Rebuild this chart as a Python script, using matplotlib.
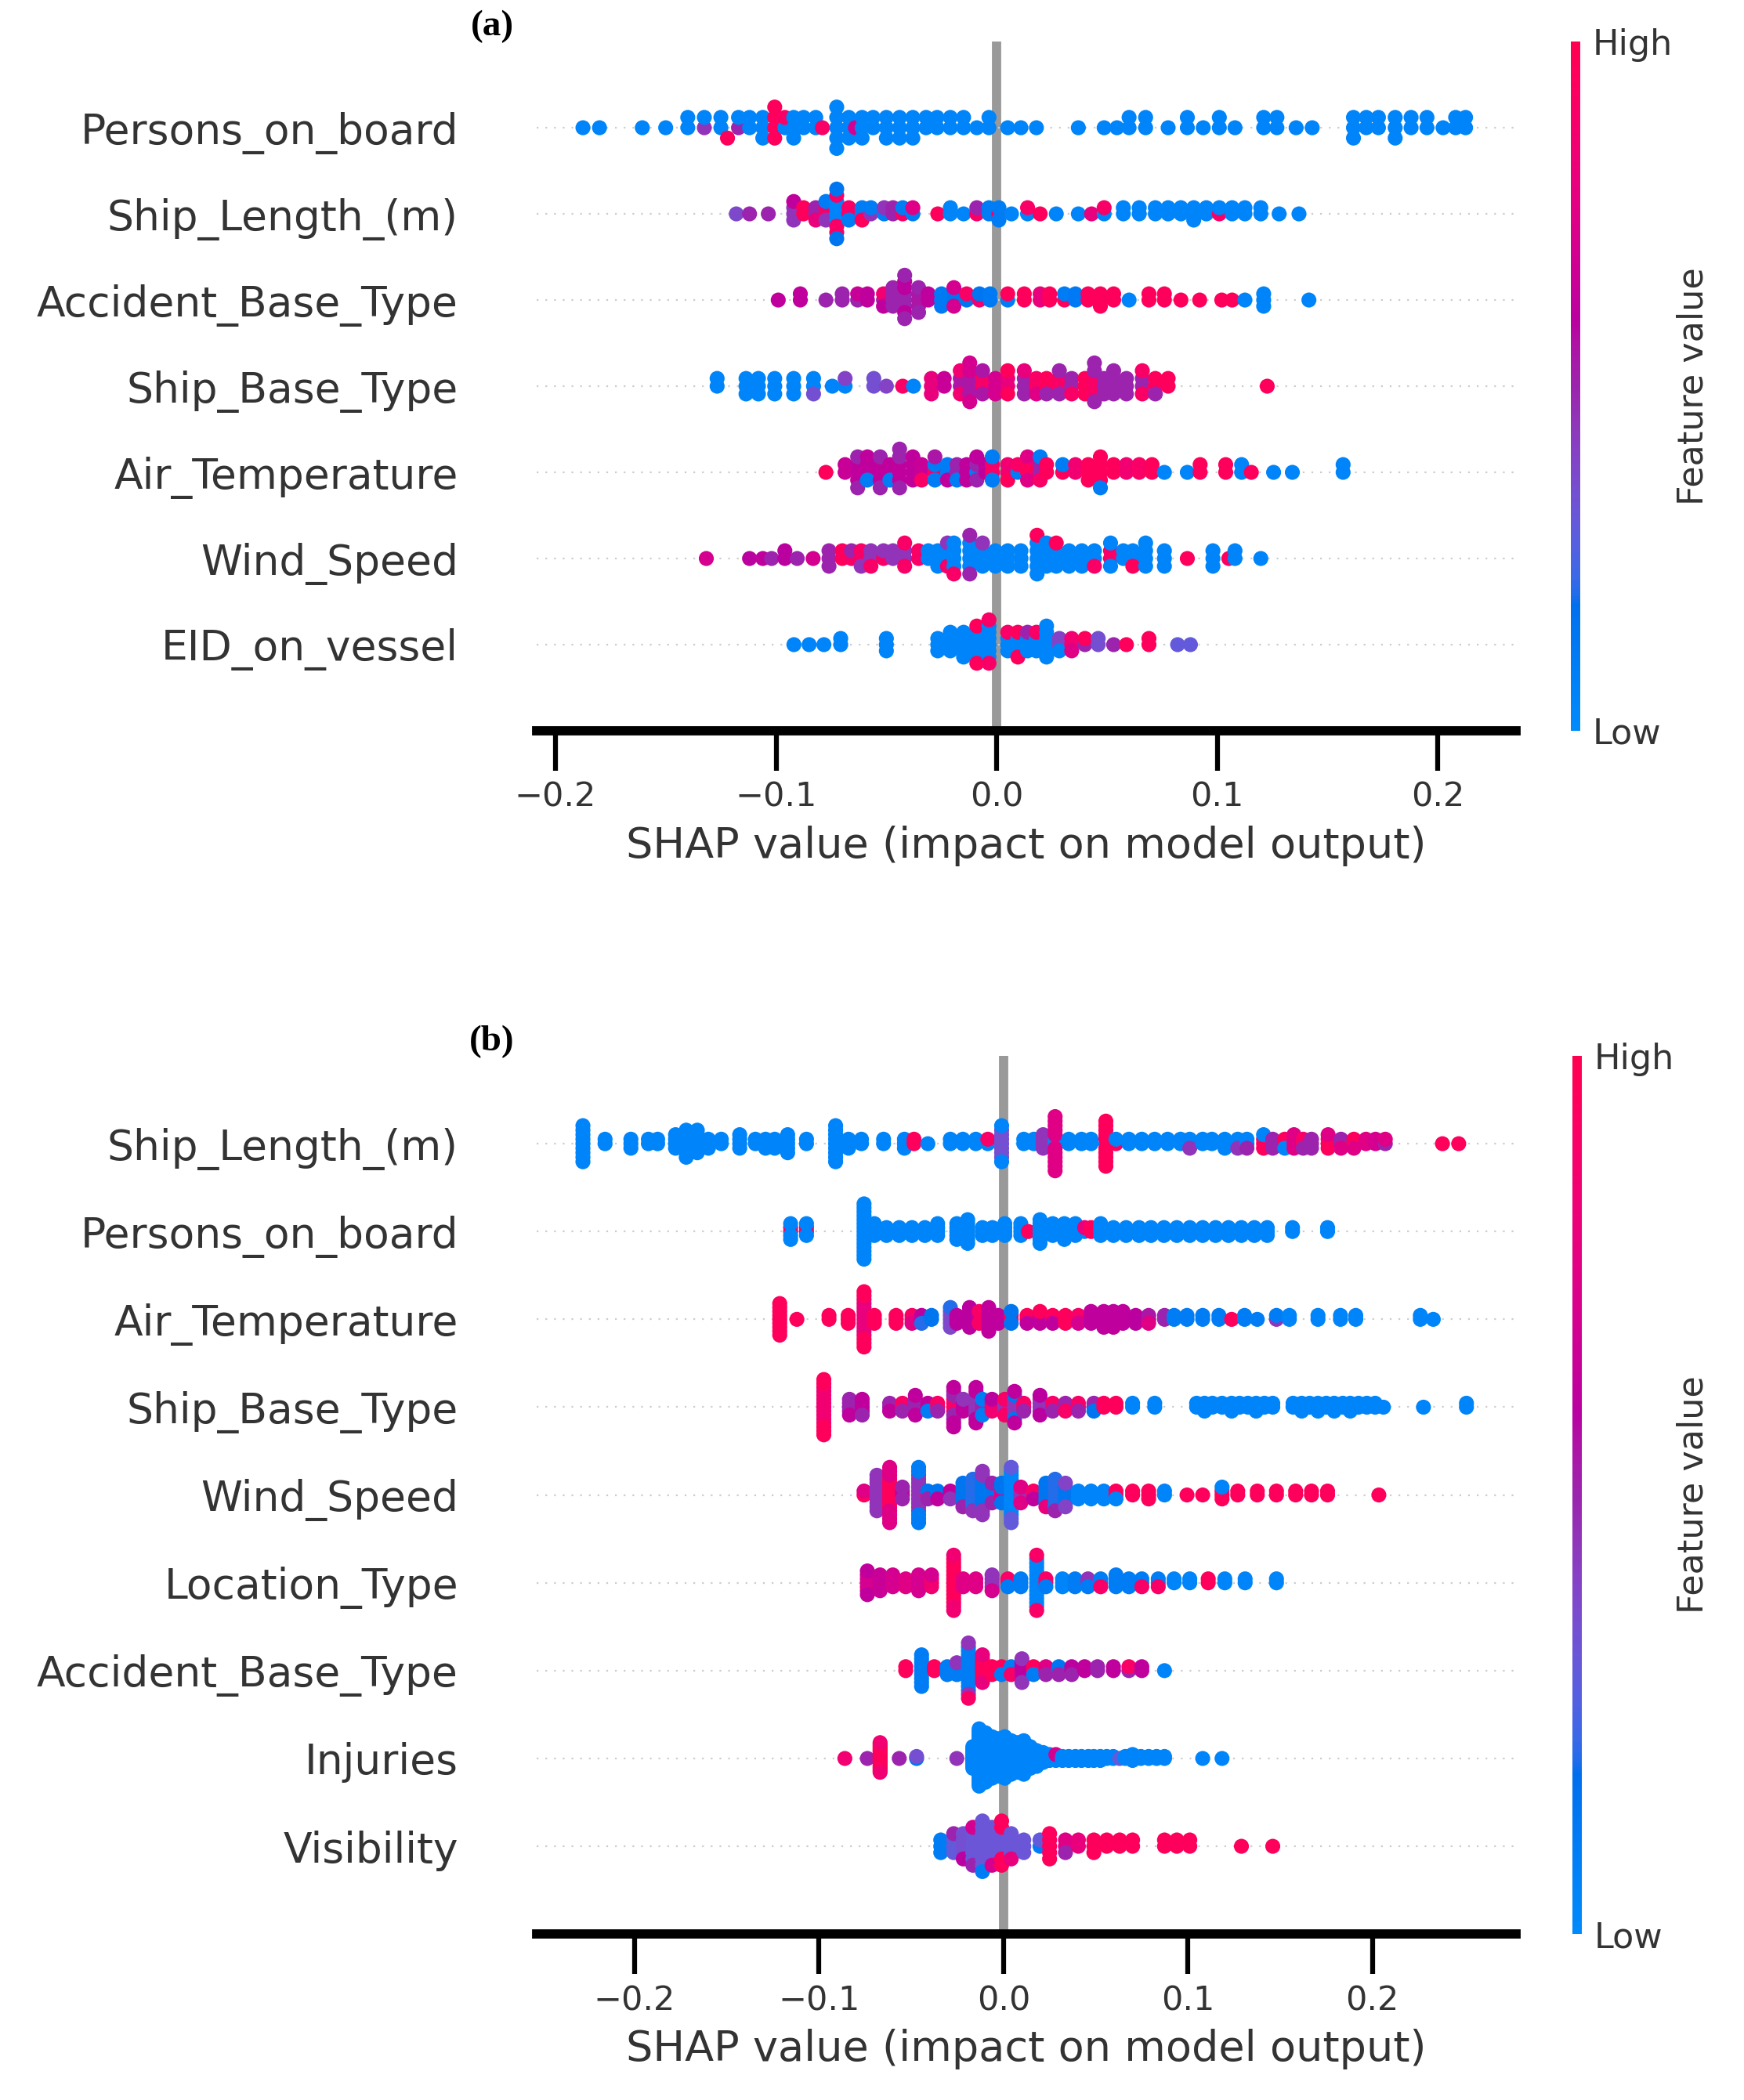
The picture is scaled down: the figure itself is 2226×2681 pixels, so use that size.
import numpy as np
import matplotlib
matplotlib.use("Agg")
import matplotlib.pyplot as plt
from matplotlib.colors import LinearSegmentedColormap, Normalize
from matplotlib.cm import ScalarMappable

# ---------------------------------------------------------------- data
# each group: (SHAP value, number of samples, normalised feature value 0=low..1=high)
features_a = ["Persons_on_board", "Ship_Length_(m)", "Accident_Base_Type", "Ship_Base_Type",
              "Air_Temperature", "Wind_Speed", "EID_on_vessel"]
features_b = ["Ship_Length_(m)", "Persons_on_board", "Air_Temperature", "Ship_Base_Type",
              "Wind_Speed", "Location_Type", "Accident_Base_Type", "Injuries", "Visibility"]
xticks_a = [-0.2, -0.1, 0.0, 0.1, 0.2]
xticks_b = [-0.2, -0.1, 0.0, 0.1, 0.2]
xlim_a = (-0.2085, 0.2353)
xlim_b = (-0.2531, 0.2778)
xlabel = "SHAP value (impact on model output)"
cbar_labels = ["Low", "High"]
cbar_title = "Feature value"
panel_labels = ["(a)", "(b)"]

a_persons_on_board = [
    (-0.1875, 1, 0.05), (-0.180, 1, 0.05), (-0.1606, 1, 0.05), (-0.150, 1, 0.05),
    (-0.140, 2, 0.05), (-0.1325, 1, 0.45), (-0.1325, 1, 0.05),
    (-0.125, 2, 0.05), (-0.122, 1, 0.95), (-0.117, 1, 0.5), (-0.117, 1, 0.05),
    (-0.112, 2, 0.05), (-0.106, 3, 0.05),
    (-0.1006, 4, 0.95), (-0.096, 1, 0.05), (-0.096, 1, 0.9),
    (-0.092, 3, 0.05), (-0.0875, 2, 0.05), (-0.082, 2, 0.05), (-0.079, 1, 0.9),
    (-0.0725, 5, 0.05), (-0.067, 3, 0.05), (-0.064, 1, 0.7), (-0.061, 3, 0.05), (-0.056, 2, 0.05),
    (-0.050, 3, 0.05), (-0.044, 3, 0.05), (-0.038, 3, 0.05), (-0.032, 2, 0.05), (-0.027, 2, 0.05),
    (-0.021, 2, 0.05), (-0.015, 2, 0.05), (-0.009, 1, 0.05), (-0.0035, 2, 0.05), (0.005, 1, 0.05),
    (0.011, 1, 0.05), (0.018, 1, 0.05),
    (0.037, 1, 0.05), (0.0487, 1, 0.05), (0.0545, 1, 0.05), (0.060, 2, 0.05), (0.0675, 2, 0.05),
    (0.0777, 1, 0.05), (0.0864, 2, 0.05), (0.0936, 1, 0.05), (0.1009, 2, 0.05), (0.108, 1, 0.05),
    (0.121, 2, 0.05), (0.127, 2, 0.05), (0.1357, 1, 0.05), (0.143, 1, 0.05),
    (0.1617, 3, 0.05), (0.1675, 2, 0.05), (0.173, 2, 0.05), (0.1806, 3, 0.05), (0.1878, 2, 0.05),
    (0.195, 2, 0.05), (0.2023, 1, 0.05), (0.208, 2, 0.05), (0.2125, 2, 0.05)]

a_ship_length = [
    (-0.118, 1, 0.38), (-0.112, 1, 0.5), (-0.1035, 1, 0.5),
    (-0.092, 3, 0.45), (-0.092, 1, 0.62), (-0.0875, 2, 0.95),
    (-0.082, 2, 0.5), (-0.082, 1, 0.8),
    (-0.0774, 2, 0.9), (-0.0774, 1, 0.45), (-0.0774, 1, 0.1),
    (-0.0725, 4, 0.05), (-0.0725, 3, 0.9), (-0.0725, 2, 0.15),
    (-0.067, 2, 0.9), (-0.067, 1, 0.1), (-0.061, 2, 0.1), (-0.061, 1, 0.95), (-0.057, 1, 0.45), (-0.057, 1, 0.1),
    (-0.051, 1, 0.1), (-0.051, 1, 0.45), (-0.047, 2, 0.5), (-0.0426, 1, 0.9), (-0.0426, 1, 0.1),
    (-0.038, 1, 0.1), (-0.038, 1, 0.75),
    (-0.0267, 1, 0.95), (-0.021, 2, 0.05), (-0.015, 1, 0.05), (-0.009, 1, 0.9), (-0.009, 1, 0.5),
    (-0.0035, 2, 0.1), (0.001, 1, 0.9), (0.001, 2, 0.1), (0.0067, 1, 0.05), (0.014, 1, 0.05),
    (0.014, 1, 0.9), (0.0197, 1, 0.95), (0.027, 1, 0.05),
    (0.037, 1, 0.05), (0.043, 1, 0.8), (0.0487, 1, 0.05), (0.0487, 1, 0.9), (0.0574, 2, 0.05),
    (0.0646, 2, 0.05), (0.0719, 2, 0.05), (0.0777, 2, 0.05), (0.0835, 2, 0.05), (0.0893, 3, 0.05),
    (0.095, 2, 0.05), (0.1009, 1, 0.9), (0.1009, 1, 0.05), (0.1067, 2, 0.05), (0.1125, 2, 0.05),
    (0.1197, 2, 0.05), (0.128, 1, 0.05), (0.137, 1, 0.05)]

a_accident_base_type = [
    (-0.099, 1, 0.62), (-0.089, 2, 0.62), (-0.0774, 1, 0.5), (-0.070, 2, 0.5), (-0.063, 1, 0.5),
    (-0.063, 1, 0.65), (-0.0586, 2, 0.62),
    (-0.0513, 1, 0.5), (-0.0513, 1, 0.85), (-0.0513, 1, 0.62), (-0.047, 4, 0.5),
    (-0.0417, 3, 0.5), (-0.0417, 3, 0.6), (-0.0417, 2, 0.5),
    (-0.0354, 3, 0.55), (-0.0354, 2, 0.5), (-0.031, 2, 0.62),
    (-0.025, 3, 0.12), (-0.0194, 2, 0.15), (-0.0194, 2, 0.7), (-0.0136, 1, 0.15), (-0.0136, 1, 0.9),
    (-0.0078, 1, 0.85), (-0.0078, 1, 0.15), (-0.003, 2, 0.12),
    (0.005, 1, 0.1), (0.005, 1, 0.95), (0.0125, 2, 0.95), (0.0197, 2, 0.8), (0.024, 2, 0.95),
    (0.0307, 1, 0.95), (0.0307, 1, 0.1), (0.0357, 2, 0.12), (0.0414, 2, 0.95), (0.047, 3, 0.95),
    (0.053, 2, 0.95), (0.060, 1, 0.05), (0.069, 2, 0.95), (0.076, 2, 0.95), (0.0835, 1, 0.95),
    (0.092, 1, 0.95), (0.102, 1, 0.95), (0.1067, 1, 0.95), (0.1125, 1, 0.05), (0.121, 3, 0.05),
    (0.1415, 1, 0.05)]

a_ship_base_type = [
    (-0.1267, 2, 0.05), (-0.1136, 3, 0.05), (-0.108, 3, 0.05), (-0.1006, 3, 0.05), (-0.092, 3, 0.05),
    (-0.083, 2, 0.05), (-0.083, 1, 0.35), (-0.0745, 1, 0.05), (-0.0687, 1, 0.05), (-0.0687, 1, 0.4),
    (-0.0557, 2, 0.35), (-0.050, 1, 0.4), (-0.0426, 1, 0.9), (-0.0377, 1, 0.05),
    (-0.0296, 3, 0.8), (-0.0238, 2, 0.65), (-0.0165, 2, 0.55), (-0.0165, 2, 0.85), (-0.0122, 3, 0.55),
    (-0.0122, 3, 0.7), (-0.0064, 2, 0.9), (-0.0064, 2, 0.55), (-0.0006, 3, 0.7), (0.005, 2, 0.8),
    (0.005, 2, 0.95), (0.0125, 3, 0.5), (0.0125, 1, 0.8), (0.018, 2, 0.9), (0.018, 1, 0.75),
    (0.0226, 2, 0.95), (0.0226, 1, 0.5), (0.0284, 2, 0.9), (0.0284, 2, 0.5), (0.034, 2, 0.5),
    (0.034, 1, 0.9), (0.040, 3, 0.95), (0.0443, 3, 0.9), (0.0443, 3, 0.5), (0.0487, 3, 0.5),
    (0.053, 4, 0.5), (0.0588, 3, 0.5), (0.066, 2, 0.5), (0.066, 2, 0.9), (0.0719, 2, 0.95),
    (0.0719, 1, 0.5), (0.0777, 2, 0.95), (0.1226, 1, 0.95)]

a_air_temperature = [
    (-0.0774, 1, 0.95), (-0.0687, 2, 0.65), (-0.063, 3, 0.62), (-0.063, 2, 0.5), (-0.0586, 2, 0.62),
    (-0.0586, 1, 0.1), (-0.0586, 1, 0.62), (-0.0528, 3, 0.62), (-0.0528, 2, 0.5), (-0.0484, 2, 0.62),
    (-0.0484, 1, 0.1), (-0.044, 3, 0.62), (-0.044, 3, 0.5), (-0.038, 4, 0.62), (-0.034, 2, 0.65),
    (-0.034, 1, 0.9), (-0.028, 1, 0.9), (-0.028, 2, 0.1), (-0.028, 1, 0.55), (-0.0223, 2, 0.1),
    (-0.0223, 1, 0.62), (-0.018, 2, 0.5), (-0.018, 1, 0.1), (-0.0136, 3, 0.62), (-0.009, 1, 0.1),
    (-0.009, 2, 0.5), (-0.009, 1, 0.62), (-0.005, 2, 0.62), (-0.002, 2, 0.9), (-0.002, 2, 0.1),
    (0.005, 2, 0.85), (0.005, 1, 0.95), (0.0096, 1, 0.1), (0.0096, 1, 0.9), (0.014, 2, 0.95),
    (0.014, 2, 0.75), (0.0197, 2, 0.5), (0.0197, 1, 0.9), (0.0197, 1, 0.1), (0.0226, 2, 0.95),
    (0.0299, 1, 0.95), (0.0299, 1, 0.1), (0.0357, 2, 0.85), (0.0415, 3, 0.95), (0.047, 4, 0.95),
    (0.047, 1, 0.1), (0.053, 2, 0.95), (0.0588, 2, 0.85), (0.0646, 2, 0.9), (0.0704, 2, 0.95),
    (0.076, 1, 0.05), (0.0864, 1, 0.05), (0.0922, 2, 0.95), (0.1038, 2, 0.95), (0.111, 2, 0.05),
    (0.1154, 1, 0.95), (0.1255, 1, 0.05), (0.134, 1, 0.05), (0.157, 2, 0.05)]

a_wind_speed = [
    (-0.1316, 1, 0.7), (-0.112, 1, 0.6), (-0.106, 1, 0.62), (-0.102, 1, 0.5), (-0.096, 2, 0.6),
    (-0.0904, 1, 0.5), (-0.0832, 1, 0.7), (-0.076, 3, 0.5), (-0.070, 2, 0.95), (-0.0658, 1, 0.9),
    (-0.0658, 1, 0.5), (-0.0614, 2, 0.9), (-0.0614, 1, 0.45), (-0.057, 2, 0.45), (-0.057, 1, 0.9),
    (-0.0513, 1, 0.9), (-0.0513, 1, 0.45), (-0.047, 2, 0.45), (-0.0417, 2, 0.45), (-0.0417, 2, 0.9),
    (-0.0354, 2, 0.9), (-0.031, 2, 0.05), (-0.0267, 3, 0.05), (-0.0223, 2, 0.05), (-0.0223, 1, 0.9),
    (-0.0223, 1, 0.45), (-0.0194, 4, 0.05), (-0.0194, 1, 0.9), (-0.0122, 4, 0.05), (-0.0122, 2, 0.5),
    (-0.0064, 3, 0.05), (-0.0064, 1, 0.45), (-0.0006, 3, 0.05), (0.005, 3, 0.05), (0.011, 3, 0.05),
    (0.0183, 5, 0.05), (0.0183, 1, 0.95), (0.0226, 4, 0.05), (0.027, 3, 0.05), (0.027, 1, 0.95),
    (0.0328, 3, 0.05), (0.0386, 3, 0.05), (0.0443, 2, 0.05), (0.0443, 1, 0.9), (0.0516, 2, 0.9),
    (0.0516, 2, 0.05), (0.0574, 2, 0.05), (0.0617, 2, 0.05), (0.0617, 1, 0.95), (0.0675, 4, 0.05),
    (0.076, 3, 0.05), (0.0864, 1, 0.95), (0.098, 3, 0.05), (0.1052, 1, 0.95), (0.108, 2, 0.05),
    (0.1197, 1, 0.05)]

a_eid_on_vessel = [
    (-0.0919, 1, 0.05), (-0.085, 1, 0.05), (-0.0783, 1, 0.05), (-0.0707, 2, 0.05), (-0.050, 3, 0.05),
    (-0.0267, 3, 0.05), (-0.021, 4, 0.05), (-0.015, 5, 0.05), (-0.009, 5, 0.05), (-0.009, 2, 0.95),
    (-0.0035, 6, 0.05), (-0.0035, 2, 0.9), (0.005, 3, 0.05), (0.005, 1, 0.9), (0.0096, 3, 0.05),
    (0.0096, 2, 0.95), (0.014, 3, 0.05), (0.014, 1, 0.5), (0.018, 3, 0.05), (0.018, 1, 0.9),
    (0.0226, 6, 0.05), (0.0284, 2, 0.4), (0.0284, 1, 0.05), (0.034, 2, 0.85), (0.034, 1, 0.75),
    (0.040, 1, 0.5), (0.040, 1, 0.95), (0.046, 2, 0.35), (0.053, 1, 0.5), (0.0588, 1, 0.95),
    (0.069, 2, 0.95), (0.082, 1, 0.3), (0.0878, 1, 0.3)]

b_ship_length = [
    (-0.228, 9, 0.05), (-0.216, 2, 0.05), (-0.202, 3, 0.05), (-0.1925, 2, 0.05), (-0.1875, 2, 0.05),
    (-0.1778, 4, 0.05), (-0.172, 7, 0.05), (-0.166, 6, 0.05), (-0.160, 3, 0.05), (-0.153, 2, 0.05),
    (-0.143, 4, 0.05), (-0.1345, 2, 0.05), (-0.129, 3, 0.05), (-0.124, 3, 0.05), (-0.117, 5, 0.05),
    (-0.1068, 2, 0.05), (-0.091, 9, 0.05), (-0.084, 3, 0.05), (-0.077, 2, 0.05), (-0.065, 2, 0.05),
    (-0.0537, 3, 0.05), (-0.0485, 2, 0.95), (-0.041, 1, 0.05), (-0.0288, 2, 0.05), (-0.022, 2, 0.05),
    (-0.015, 2, 0.05), (-0.0085, 1, 0.05), (-0.0085, 1, 0.9),
    (-0.001, 7, 0.35), (-0.001, 2, 0.05),
    (0.011, 2, 0.05), (0.0165, 2, 0.05), (0.0215, 4, 0.45), (0.028, 2, 0.05), (0.028, 11, 0.75),
    (0.0354, 2, 0.05), (0.0423, 2, 0.05), (0.0475, 2, 0.05), (0.0555, 1, 0.05), (0.0555, 10, 0.95),
    (0.061, 1, 0.95), (0.061, 1, 0.05), (0.068, 2, 0.05), (0.075, 2, 0.05), (0.082, 2, 0.05),
    (0.089, 2, 0.05), (0.096, 2, 0.05), (0.101, 2, 0.05), (0.101, 1, 0.45), (0.108, 2, 0.05),
    (0.113, 2, 0.05), (0.120, 3, 0.05), (0.127, 2, 0.05), (0.127, 1, 0.45), (0.132, 2, 0.05),
    (0.132, 1, 0.5), (0.141, 3, 0.95), (0.141, 1, 0.05), (0.146, 3, 0.5), (0.1525, 2, 0.95),
    (0.1525, 1, 0.05), (0.1575, 4, 0.75), (0.1625, 2, 0.9), (0.1625, 1, 0.5), (0.167, 3, 0.5),
    (0.176, 3, 0.95), (0.176, 1, 0.75), (0.183, 2, 0.5), (0.183, 1, 0.75), (0.190, 2, 0.95),
    (0.190, 1, 0.75), (0.1965, 2, 0.75), (0.2017, 2, 0.7), (0.207, 1, 0.5), (0.207, 1, 0.75),
    (0.238, 1, 0.95), (0.2468, 1, 0.95)]

b_persons_on_board = [
    (-0.1154, 2, 0.95), (-0.1154, 3, 0.05), (-0.1068, 2, 0.95), (-0.1068, 2, 0.05),
    (-0.0756, 15, 0.05), (-0.070, 4, 0.05), (-0.0634, 3, 0.05), (-0.0565, 3, 0.05), (-0.0496, 3, 0.05),
    (-0.0426, 3, 0.05), (-0.0357, 4, 0.05), (-0.0253, 5, 0.05), (-0.0194, 7, 0.05), (-0.0114, 3, 0.05),
    (-0.006, 3, 0.05), (0.0007, 4, 0.05), (0.0094, 4, 0.05), (0.0135, 1, 0.95), (0.0198, 7, 0.05),
    (0.0267, 4, 0.05), (0.033, 5, 0.05), (0.039, 4, 0.05), (0.044, 1, 0.05), (0.044, 1, 0.8),
    (0.0475, 2, 0.95), (0.0527, 4, 0.05), (0.0596, 3, 0.05), (0.0665, 3, 0.05), (0.0735, 3, 0.05),
    (0.080, 3, 0.05), (0.087, 3, 0.05), (0.094, 3, 0.05), (0.101, 3, 0.05), (0.108, 3, 0.05),
    (0.115, 3, 0.05), (0.122, 3, 0.05), (0.129, 3, 0.05), (0.136, 3, 0.05), (0.143, 3, 0.05),
    (0.1567, 2, 0.05), (0.1757, 2, 0.05)]

b_air_temperature = [
    (-0.1213, 9, 0.95), (-0.112, 1, 0.95), (-0.0946, 2, 0.95), (-0.0842, 3, 0.95),
    (-0.0756, 10, 0.8), (-0.0756, 5, 0.95), (-0.070, 3, 0.95), (-0.0582, 3, 0.95), (-0.0496, 2, 0.9),
    (-0.0496, 1, 0.75), (-0.0444, 2, 0.6), (-0.0444, 1, 0.2), (-0.039, 2, 0.15), (-0.0288, 5, 0.38),
    (-0.0288, 1, 0.2), (-0.0253, 3, 0.6), (-0.0184, 6, 0.6), (-0.0132, 2, 0.65), (-0.0132, 2, 0.9),
    (-0.008, 7, 0.62), (-0.0028, 3, 0.62), (0.0042, 2, 0.95), (0.0042, 2, 0.15), (0.0128, 2, 0.95),
    (0.0128, 1, 0.62), (0.0198, 3, 0.62), (0.0198, 1, 0.95), (0.0267, 2, 0.95), (0.0267, 1, 0.62),
    (0.0336, 3, 0.95), (0.0406, 2, 0.9), (0.0406, 1, 0.7), (0.0475, 4, 0.62), (0.0544, 5, 0.62),
    (0.0596, 5, 0.62), (0.0648, 4, 0.62), (0.0717, 3, 0.6), (0.0787, 2, 0.55), (0.0787, 1, 0.75),
    (0.0873, 2, 0.5), (0.0925, 2, 0.1), (0.0995, 2, 0.1), (0.108, 2, 0.1), (0.1168, 2, 0.1),
    (0.1237, 1, 0.95), (0.1307, 2, 0.1), (0.1376, 1, 0.1), (0.148, 1, 0.45), (0.148, 1, 0.1),
    (0.155, 2, 0.05), (0.1705, 2, 0.05), (0.1827, 2, 0.05), (0.191, 2, 0.05), (0.226, 2, 0.05),
    (0.233, 1, 0.05)]

b_ship_base_type = [
    (-0.0974, 10, 0.85), (-0.0974, 5, 0.95), (-0.0835, 4, 0.5), (-0.0835, 1, 0.62), (-0.0766, 4, 0.62),
    (-0.0766, 1, 0.5), (-0.0617, 2, 0.5), (-0.0617, 1, 0.62), (-0.0548, 2, 0.9), (-0.0548, 1, 0.5),
    (-0.0478, 4, 0.5), (-0.0478, 2, 0.62), (-0.041, 2, 0.62), (-0.041, 1, 0.1), (-0.0357, 2, 0.9),
    (-0.0357, 1, 0.5), (-0.027, 4, 0.9), (-0.027, 4, 0.5), (-0.027, 3, 0.62), (-0.0218, 3, 0.62),
    (-0.0218, 1, 0.45), (-0.0149, 6, 0.45), (-0.0149, 4, 0.62), (-0.0114, 3, 0.5), (-0.0114, 2, 0.1),
    (-0.0062, 3, 0.85), (-0.0062, 1, 0.6), (0.0007, 3, 0.45), (0.0007, 2, 0.9), (0.006, 5, 0.45),
    (0.006, 2, 0.15), (0.006, 2, 0.62), (0.011, 2, 0.9), (0.011, 1, 0.5), (0.0198, 4, 0.45),
    (0.0198, 2, 0.6), (0.0267, 2, 0.9), (0.0267, 1, 0.5), (0.0336, 2, 0.5), (0.0336, 1, 0.9),
    (0.0406, 2, 0.9), (0.0406, 1, 0.5), (0.049, 2, 0.5), (0.049, 1, 0.15), (0.0544, 2, 0.95),
    (0.061, 2, 0.95), (0.07, 2, 0.05), (0.082, 2, 0.05),
    (0.1047, 2, 0.05), (0.109, 3, 0.05), (0.1133, 2, 0.05), (0.1185, 2, 0.05), (0.1237, 3, 0.05),
    (0.128, 2, 0.05), (0.1325, 2, 0.05), (0.137, 3, 0.05), (0.1415, 2, 0.05), (0.146, 2, 0.05),
    (0.157, 2, 0.05), (0.1617, 3, 0.05), (0.166, 2, 0.05), (0.1705, 3, 0.05), (0.175, 2, 0.05),
    (0.1793, 3, 0.05), (0.184, 2, 0.05), (0.188, 3, 0.05), (0.1925, 2, 0.05), (0.197, 2, 0.05),
    (0.2015, 2, 0.05), (0.206, 1, 0.05), (0.2277, 1, 0.05), (0.251, 2, 0.05)]

b_wind_speed = [
    (-0.0756, 1, 0.95), (-0.0756, 1, 0.75), (-0.0686, 10, 0.45), (-0.0617, 8, 0.95), (-0.0617, 7, 0.75),
    (-0.0548, 2, 0.62), (-0.0548, 2, 0.5), (-0.046, 10, 0.45), (-0.046, 5, 0.1), (-0.041, 1, 0.9),
    (-0.041, 1, 0.15), (-0.041, 1, 0.5), (-0.0357, 2, 0.15), (-0.0357, 1, 0.62), (-0.0288, 2, 0.62),
    (-0.0288, 1, 0.45), (-0.022, 6, 0.15), (-0.022, 1, 0.5), (-0.0166, 8, 0.2), (-0.0166, 1, 0.45),
    (-0.0114, 8, 0.15), (-0.0114, 4, 0.45), (-0.0062, 4, 0.15), (-0.0062, 2, 0.5), (-0.001, 3, 0.75),
    (-0.001, 3, 0.15), (0.0042, 12, 0.05), (0.0042, 3, 0.3), (0.0094, 3, 0.45), (0.0094, 2, 0.75),
    (0.0163, 2, 0.9), (0.0163, 1, 0.62), (0.023, 6, 0.15), (0.023, 1, 0.8), (0.028, 8, 0.2),
    (0.028, 1, 0.5), (0.0336, 5, 0.15), (0.0336, 2, 0.4), (0.0406, 3, 0.05), (0.0475, 3, 0.05),
    (0.0544, 3, 0.05), (0.061, 2, 0.95), (0.061, 1, 0.05), (0.07, 2, 0.95), (0.0787, 3, 0.95),
    (0.0873, 2, 0.05), (0.0995, 1, 0.95), (0.108, 1, 0.95), (0.1185, 3, 0.95), (0.1185, 1, 0.05),
    (0.127, 2, 0.95), (0.1376, 2, 0.95), (0.148, 2, 0.95), (0.1584, 2, 0.95), (0.167, 2, 0.95),
    (0.1757, 2, 0.95), (0.2035, 1, 0.95)]

b_location_type = [
    (-0.0738, 5, 0.7), (-0.0738, 2, 0.62), (-0.0669, 5, 0.65), (-0.06, 4, 0.7), (-0.053, 3, 0.75),
    (-0.046, 5, 0.7), (-0.039, 3, 0.85), (-0.039, 1, 0.7), (-0.027, 12, 0.95), (-0.027, 3, 0.85),
    (-0.0218, 3, 0.75), (-0.015, 3, 0.75), (-0.0062, 4, 0.45), (-0.0062, 1, 0.7), (0.0024, 2, 0.9),
    (0.0024, 1, 0.1), (0.0094, 3, 0.1), (0.018, 13, 0.05), (0.018, 2, 0.9), (0.023, 2, 0.9),
    (0.023, 1, 0.1), (0.032, 3, 0.05), (0.0388, 3, 0.1), (0.0458, 2, 0.45), (0.0458, 1, 0.1),
    (0.0527, 2, 0.1), (0.0527, 1, 0.9), (0.061, 4, 0.1), (0.068, 3, 0.1), (0.075, 2, 0.1),
    (0.075, 1, 0.9), (0.0839, 2, 0.1), (0.0839, 1, 0.9), (0.0925, 2, 0.05), (0.101, 2, 0.05),
    (0.111, 2, 0.95), (0.12, 2, 0.05), (0.131, 2, 0.05), (0.148, 2, 0.05)]

b_accident_base_type = [
    (-0.053, 2, 0.95), (-0.0444, 9, 0.1), (-0.0375, 2, 0.95), (-0.0305, 3, 0.1), (-0.0253, 3, 0.1),
    (-0.0253, 1, 0.45), (-0.019, 12, 0.1), (-0.019, 2, 0.45), (-0.019, 1, 0.9), (-0.0114, 6, 0.95),
    (-0.0114, 2, 0.8), (-0.0062, 3, 0.95), (-0.001, 2, 0.95), (-0.001, 1, 0.1), (0.0042, 2, 0.1),
    (0.0042, 1, 0.9), (0.01, 5, 0.6), (0.01, 2, 0.45), (0.0163, 2, 0.95), (0.0163, 1, 0.1),
    (0.023, 2, 0.75), (0.023, 1, 0.5), (0.03, 2, 0.15), (0.03, 1, 0.5), (0.037, 2, 0.6),
    (0.037, 1, 0.5), (0.044, 2, 0.62), (0.051, 2, 0.5), (0.0596, 2, 0.62), (0.068, 1, 0.5),
    (0.068, 1, 0.9), (0.075, 2, 0.62), (0.0873, 1, 0.05)]

b_injuries = [
    (-0.086, 1, 0.85), (-0.0738, 1, 0.5), (-0.0669, 14, 0.95), (-0.0669, 2, 0.85), (-0.0565, 1, 0.5),
    (-0.0471, 1, 0.15), (-0.0471, 1, 0.35), (-0.0253, 1, 0.45),
    (-0.0166, 12, 0.05), (-0.0132, 30, 0.05), (-0.0097, 26, 0.05), (-0.0062, 22, 0.05),
    (-0.0028, 20, 0.05), (0.0007, 22, 0.05), (0.0042, 18, 0.05), (0.0076, 16, 0.05), (0.011, 18, 0.05),
    (0.0145, 12, 0.05), (0.018, 9, 0.05), (0.0215, 6, 0.05), (0.025, 4, 0.05), (0.0284, 3, 0.05),
    (0.0284, 1, 0.7), (0.032, 3, 0.05), (0.0354, 3, 0.05), (0.039, 3, 0.05), (0.0423, 3, 0.05),
    (0.046, 3, 0.05), (0.049, 3, 0.05), (0.0525, 3, 0.05), (0.056, 2, 0.05), (0.0595, 2, 0.05),
    (0.063, 1, 0.3), (0.066, 2, 0.05), (0.07, 4, 0.05), (0.0745, 2, 0.05), (0.0787, 2, 0.05),
    (0.083, 2, 0.05), (0.0873, 2, 0.05), (0.108, 1, 0.05), (0.1185, 1, 0.05)]

b_visibility = [
    (-0.034, 3, 0.1), (-0.027, 3, 0.3), (-0.027, 1, 0.5), (-0.0218, 4, 0.35), (-0.0218, 1, 0.6),
    (-0.0166, 5, 0.32), (-0.0166, 1, 0.7), (-0.0166, 1, 0.5), (-0.0114, 8, 0.32), (-0.0114, 1, 0.1),
    (-0.0062, 6, 0.32), (-0.0062, 1, 0.7), (-0.001, 4, 0.32), (-0.001, 4, 0.95), (0.0042, 4, 0.32),
    (0.0042, 1, 0.8), (0.011, 3, 0.32), (0.0198, 1, 0.1), (0.0198, 1, 0.3), (0.025, 5, 0.95),
    (0.0336, 2, 0.75), (0.0336, 1, 0.5), (0.0406, 2, 0.8), (0.049, 3, 0.95), (0.056, 2, 0.95),
    (0.063, 2, 0.95), (0.07, 2, 0.95), (0.0873, 2, 0.95), (0.094, 2, 0.95), (0.101, 2, 0.95),
    (0.129, 1, 0.95), (0.146, 1, 0.95)]

rows_a = [a_persons_on_board, a_ship_length, a_accident_base_type, a_ship_base_type,
          a_air_temperature, a_wind_speed, a_eid_on_vessel]
rows_b = [b_ship_length, b_persons_on_board, b_air_temperature, b_ship_base_type, b_wind_speed,
          b_location_type, b_accident_base_type, b_injuries, b_visibility]


# ---------------------------------------------------------------- colormap (SHAP red_blue, Lch space)
def lch2rgb(l, c, h):
    a = c * np.cos(h)
    b = c * np.sin(h)
    fy = (l + 16.0) / 116.0
    fx = fy + a / 500.0
    fz = fy - b / 200.0

    def finv(t):
        return t ** 3 if t > 6 / 29 else 3 * (6 / 29) ** 2 * (t - 4 / 29)

    xyz = np.array([0.95047 * finv(fx), finv(fy), 1.08883 * finv(fz)])
    m = np.array([[3.2406, -1.5372, -0.4986],
                  [-0.9689, 1.8758, 0.0415],
                  [0.0557, -0.2040, 1.0570]])
    rgb = m @ xyz
    rgb = np.where(rgb > 0.0031308, 1.055 * np.abs(rgb) ** (1 / 2.4) - 0.055, 12.92 * rgb)
    return np.clip(rgb, 0, 1)


blue_lch = [54.0, 70.0, 4.6588]
red_lch = [54.0, 90.0, 0.35470565 + 2 * np.pi]
l_mid = 40.0
nsteps = 100
l_vals = list(np.linspace(blue_lch[0], l_mid, nsteps // 2)) + list(np.linspace(l_mid, red_lch[0], nsteps // 2))
c_vals = np.linspace(blue_lch[1], red_lch[1], nsteps)
h_vals = np.linspace(blue_lch[2], red_lch[2], nsteps)
cmap = LinearSegmentedColormap.from_list(
    "red_blue", [lch2rgb(l, c, h) for l, c, h in zip(l_vals, c_vals, h_vals)])

TEXT = "#333333"


# ---------------------------------------------------------------- beeswarm
def beeswarm_row(ax, groups, pos, row_height=0.4):
    shaps = np.concatenate([np.full(n, v, dtype=float) for v, n, f in groups])
    feats = np.concatenate([np.full(n, f, dtype=float) for v, n, f in groups])
    nbins = 100
    quant = np.round(nbins * (shaps - shaps.min()) / (shaps.max() - shaps.min() + 1e-8))
    inds = np.argsort(quant, kind="stable")
    layer, last_bin = 0, -1
    ys = np.zeros(len(shaps))
    for ind in inds:
        if quant[ind] != last_bin:
            layer = 0
        ys[ind] = np.ceil(layer / 2) * ((layer % 2) * 2 - 1)
        layer += 1
        last_bin = quant[ind]
    ys *= 0.9 * (row_height / np.max(ys + 1))
    ax.scatter(shaps, pos + ys, c=feats, cmap=cmap, vmin=0, vmax=1, s=190,
               linewidths=0, zorder=3)


def summary_panel(fig, rect, cbar_rect, features, rows, xticks, xlim):
    ax = fig.add_axes(rect)
    n = len(features)
    ax.axvline(0, color="#999999", lw=8.5, zorder=-1)
    for i, groups in enumerate(rows):
        pos = n - 1 - i
        ax.axhline(pos, color="#cccccc", lw=1.6, dashes=(1, 4), zorder=-1)
        beeswarm_row(ax, groups, pos)
    ax.set_ylim(-1, n)
    ax.set_xlim(*xlim)
    ax.set_yticks(range(n))
    ax.set_yticklabels(features[::-1])
    ax.set_xticks(xticks)
    for s in ("top", "right", "left"):
        ax.spines[s].set_visible(False)
    ax.spines["bottom"].set_linewidth(8.5)
    ax.tick_params(axis="y", length=0, pad=72, labelsize=38.5, labelcolor=TEXT)
    ax.tick_params(axis="x", length=37, width=4.5, pad=9, labelsize=31, labelcolor=TEXT)
    ax.set_xlabel(xlabel, fontsize=39, color=TEXT, labelpad=11)

    cax = fig.add_axes(cbar_rect)
    sm = ScalarMappable(norm=Normalize(0, 1), cmap=cmap)
    cb = fig.colorbar(sm, cax=cax, ticks=[0, 1])
    cb.set_ticklabels(cbar_labels)
    cb.ax.tick_params(labelsize=32, length=0, pad=11, labelcolor=TEXT)
    cb.outline.set_visible(False)
    cy = cbar_rect[1] + cbar_rect[3] / 2
    fig.text(2161 / 2226, cy, cbar_title, rotation=90, ha="center", va="center",
             fontsize=32, color=TEXT)
    return ax


fig = plt.figure(figsize=(22.26, 26.81), dpi=100)
fig.patch.set_facecolor("white")

summary_panel(fig, [0.3077, 0.6520, 0.5615, 0.3282], [0.9007, 0.6520, 0.0054, 0.3282],
              features_a, rows_a, xticks_a, xlim_a)
summary_panel(fig, [0.3077, 0.0790, 0.5615, 0.4182], [0.9016, 0.0790, 0.0054, 0.4182],
              features_b, rows_b, xticks_b, xlim_b)

fig.text(628 / 2226, 1 - 34 / 2681, panel_labels[0], fontfamily="Liberation Serif",
         fontweight="bold", fontsize=34, ha="center", va="center")
fig.text(628 / 2226, 1 - 1330 / 2681, panel_labels[1], fontfamily="Liberation Serif",
         fontweight="bold", fontsize=34, ha="center", va="center")

fig.savefig("out.png", dpi=100, facecolor="white")
